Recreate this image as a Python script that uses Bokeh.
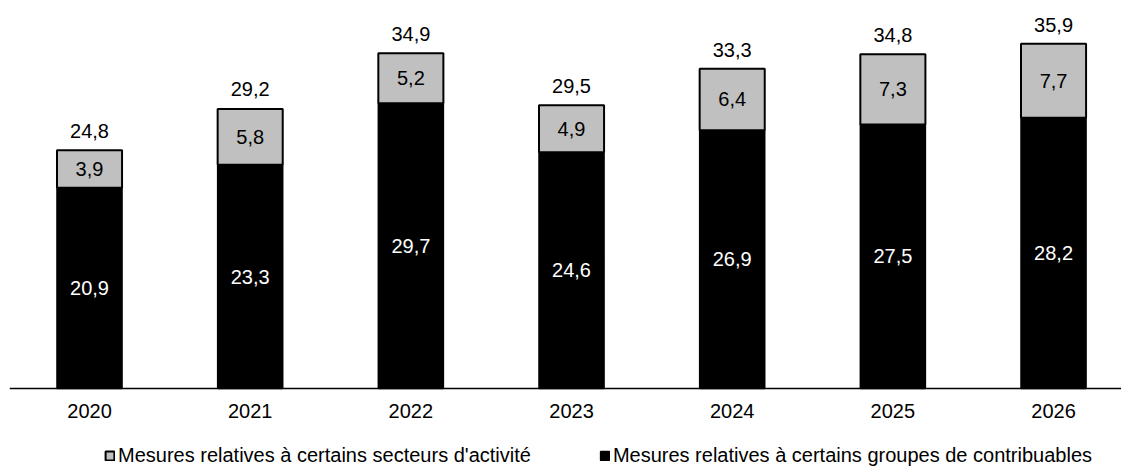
from bokeh.plotting import figure
from bokeh.models import ColumnDataSource, Range1d, Legend, LegendItem, Span
from bokeh.core.properties import value
from bokeh.embed import file_html
from bokeh.resources import INLINE

years = ["2020", "2021", "2022", "2023", "2024", "2025", "2026"]
groupes = [20.9, 23.3, 29.7, 24.6, 26.9, 27.5, 28.2]   # Mesures relatives à certains groupes de contribuables
secteurs = [3.9, 5.8, 5.2, 4.9, 6.4, 7.3, 7.7]         # Mesures relatives à certains secteurs d'activité
totaux = [24.8, 29.2, 34.9, 29.5, 33.3, 34.8, 35.9]

label_secteurs = "Mesures relatives à certains secteurs d'activité"
label_groupes = "Mesures relatives à certains groupes de contribuables"

FONT = "Liberation Sans"
GRAY = "#c0c0c0"
FS = "20px"


def fr(v):
    return f"{v:.1f}".replace(".", ",")


x = list(range(len(years)))
src = ColumnDataSource(dict(
    x=x,
    years=years,
    zero=[0] * len(years),
    groupes=groupes,
    secteurs=secteurs,
    top=[g + s for g, s in zip(groupes, secteurs)],
    totaux=totaux,
    mid_g=[g / 2 for g in groupes],
    mid_s=[g + s / 2 for g, s in zip(groupes, secteurs)],
    lab_g=[fr(v) for v in groupes],
    lab_s=[fr(v) for v in secteurs],
    lab_t=[fr(v) for v in totaux],
))

# the frame runs to the bottom of the page; the space under y=0 holds
# the year labels and the legend
p = figure(width=1121, height=468, output_backend="svg", toolbar_location=None,
           x_range=Range1d(-0.498, 6.423), y_range=Range1d(-8.33, 40.4),
           x_axis_location=None, y_axis_location=None,
           min_border_left=9, min_border_right=0, min_border_top=0, min_border_bottom=0)

W = 0.405
r_g = p.vbar(x="x", bottom=0, top="groupes", width=W, source=src,
             fill_color="black", line_color="black", line_width=1.5)
r_s = p.vbar(x="x", bottom="groupes", top="top", width=W, source=src,
             fill_color=GRAY, line_color="black", line_width=2)

# baseline
p.add_layout(Span(location=0, dimension="width", line_color="black", line_width=1.5))

p.text(x="x", y="mid_g", text="lab_g", source=src, text_color="white",
       text_font=value(FONT), text_font_size=FS,
       text_align="center", text_baseline="middle")
p.text(x="x", y="mid_s", text="lab_s", source=src, text_color="black",
       text_font=value(FONT), text_font_size=FS,
       text_align="center", text_baseline="middle")
p.text(x="x", y="totaux", text="lab_t", source=src, text_color="black",
       text_font=value(FONT), text_font_size=FS,
       text_align="center", text_baseline="middle", y_offset=-19)
# year labels under the baseline
p.text(x="x", y="zero", text="years", source=src, text_color="black",
       text_font=value(FONT), text_font_size=FS,
       text_align="center", text_baseline="middle", y_offset=23)

p.grid.visible = False
p.outline_line_color = None

legend = Legend(items=[LegendItem(label=label_secteurs, renderers=[r_s]),
                       LegendItem(label=label_groupes, renderers=[r_g])],
                orientation="horizontal", location=(95, 1),
                label_text_font=FONT, label_text_font_size=FS,
                label_text_color="black", label_height=20,
                glyph_width=11, glyph_height=11, label_standoff=3,
                spacing=68, padding=0, margin=0,
                border_line_color=None, background_fill_alpha=0)
p.add_layout(legend, "center")

open("out.html", "w").write(file_html(p, INLINE))
